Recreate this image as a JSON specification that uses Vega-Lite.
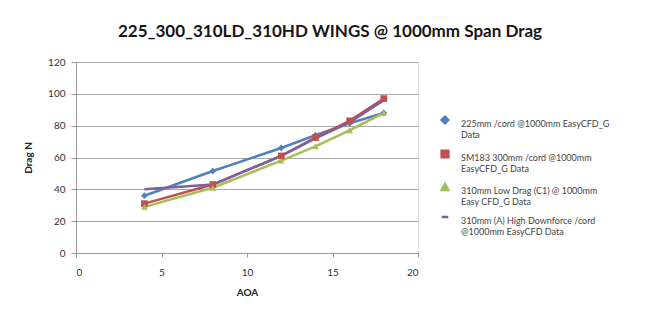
{
  "$schema": "https://vega.github.io/schema/vega-lite/v6.json",
  "width": 342,
  "height": 191,
  "autosize": {"type": "none"},
  "padding": {"left": 76, "top": 62, "right": 241, "bottom": 57},
  "background": "white",
  "title": {
    "text": "225_300_310LD_310HD WINGS @ 1000mm Span Drag",
    "font": "Lato",
    "fontSize": 17,
    "fontWeight": "bold",
    "color": "#151515",
    "anchor": "middle",
    "dx": 83,
    "offset": 16
  },
  "data": {
    "values": [
      {"aoa": 4, "drag": 36, "series": "225mm"},
      {"aoa": 8, "drag": 51.5, "series": "225mm"},
      {"aoa": 12, "drag": 66, "series": "225mm"},
      {"aoa": 14, "drag": 74, "series": "225mm"},
      {"aoa": 16, "drag": 81.5, "series": "225mm"},
      {"aoa": 18, "drag": 88, "series": "225mm"},
      {"aoa": 4, "drag": 31, "series": "SM183"},
      {"aoa": 8, "drag": 43, "series": "SM183"},
      {"aoa": 12, "drag": 61, "series": "SM183"},
      {"aoa": 14, "drag": 72.5, "series": "SM183"},
      {"aoa": 16, "drag": 83, "series": "SM183"},
      {"aoa": 18, "drag": 97, "series": "SM183"},
      {"aoa": 4, "drag": 29, "series": "310LD"},
      {"aoa": 8, "drag": 41, "series": "310LD"},
      {"aoa": 12, "drag": 58, "series": "310LD"},
      {"aoa": 14, "drag": 67, "series": "310LD"},
      {"aoa": 16, "drag": 77, "series": "310LD"},
      {"aoa": 18, "drag": 88, "series": "310LD"},
      {"aoa": 4, "drag": 40, "series": "310HD"},
      {"aoa": 8, "drag": 43, "series": "310HD"},
      {"aoa": 12, "drag": 61, "series": "310HD"},
      {"aoa": 14, "drag": 72, "series": "310HD"},
      {"aoa": 16, "drag": 82, "series": "310HD"},
      {"aoa": 18, "drag": 96, "series": "310HD"}
    ]
  },
  "encoding": {
    "x": {
      "field": "aoa",
      "type": "quantitative",
      "title": "AOA",
      "scale": {"domain": [0, 20], "nice": false},
      "axis": {
        "values": [0, 5, 10, 15, 20],
        "grid": false,
        "domainColor": "#999",
        "tickColor": "#999",
        "tickSize": 4,
        "labelFont": "Lato",
        "labelFontSize": 10,
        "labelColor": "#333",
        "labelPadding": 10,
        "titleFont": "Lato",
        "titleFontSize": 10,
        "titleFontWeight": "bold",
        "titleColor": "#222",
        "titlePadding": 10
      }
    },
    "y": {
      "field": "drag",
      "type": "quantitative",
      "title": "Drag N",
      "scale": {"domain": [0, 120], "nice": false},
      "axis": {
        "values": [0, 20, 40, 60, 80, 100, 120],
        "grid": true,
        "gridColor": "#a8a8a8",
        "gridWidth": 1.2,
        "domainColor": "#999",
        "tickColor": "#999",
        "tickSize": 5,
        "labelFont": "Lato",
        "labelFontSize": 10,
        "labelColor": "#333",
        "labelPadding": 6,
        "titleFont": "Lato",
        "titleFontSize": 10,
        "titleFontWeight": "bold",
        "titleColor": "#222",
        "titlePadding": 14
      }
    },
    "color": {
      "field": "series",
      "type": "nominal",
      "scale": {
        "domain": ["225mm", "SM183", "310LD", "310HD"],
        "range": ["#4F81BD", "#C0504D", "#A4BE5A", "#7D60A0"]
      },
      "legend": {
        "title": null,
        "orient": "none",
        "legendX": 364,
        "legendY": 53,
        "labelFont": "Lato",
        "labelFontSize": 9,
        "labelColor": "#444",
        "labelLimit": 300,
        "labelBaseline": "top",
        "labelOffset": 11,
        "symbolSize": 45,
        "symbolStrokeWidth": 2.5,
        "rowPadding": 5,
        "labelExpr": "datum.label == '225mm' ? ['225mm /cord @1000mm EasyCFD_G', 'Data'] : datum.label == 'SM183' ? ['SM183 300mm /cord @1000mm', 'EasyCFD_G Data'] : datum.label == '310LD' ? ['310mm Low Drag (C1) @ 1000mm', 'Easy CFD_G Data'] : ['310mm (A) High Downforce /cord', '@1000mm EasyCFD  Data']"
      }
    }
  },
  "layer": [
    {
      "mark": {"type": "line", "strokeWidth": 2.5},
      "encoding": {"detail": {"field": "series"}}
    },
    {
      "transform": [{"filter": "datum.series != '310HD'"}],
      "mark": {"type": "point", "filled": true, "opacity": 1, "strokeWidth": 2},
      "encoding": {
        "shape": {
          "field": "series",
          "type": "nominal",
          "scale": {
            "domain": ["225mm", "SM183", "310LD", "310HD"],
            "range": ["diamond", "square", "triangle-up", "stroke"]
          }
        },
        "size": {"value": 45}
      }
    }
  ]
}
